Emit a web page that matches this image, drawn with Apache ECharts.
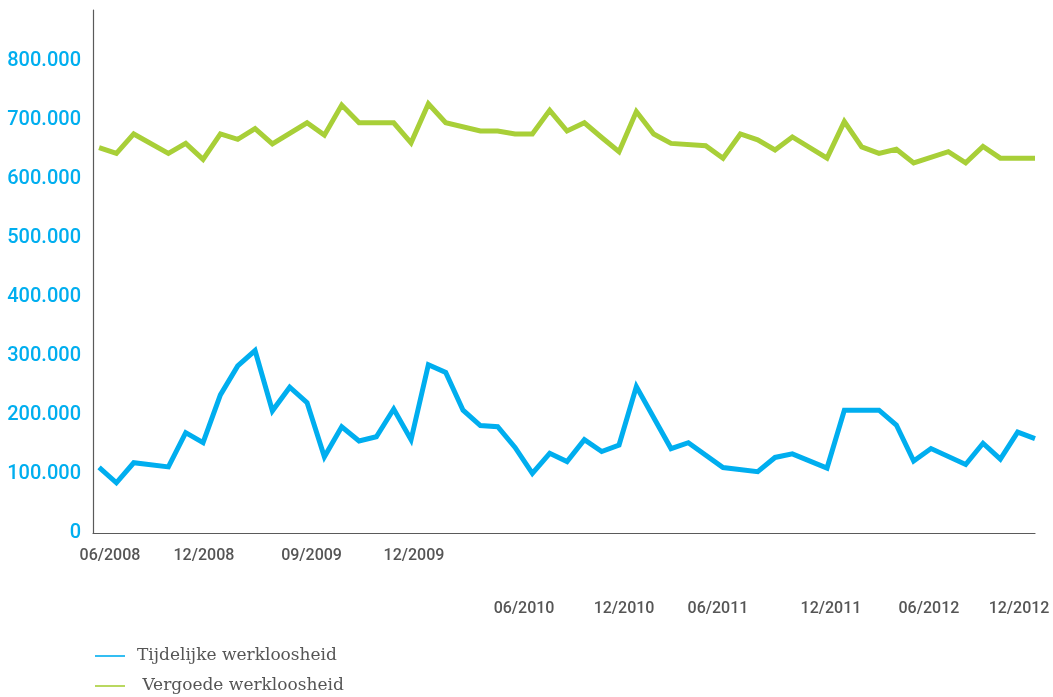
<!DOCTYPE html>
<html>
<head>
<meta charset="utf-8">
<script src="https://cdn.jsdelivr.net/npm/echarts@6/dist/echarts.min.js"></script>
<style>
  html, body { margin: 0; padding: 0; background: #fff; }
  #chart { width: 1053px; height: 697px; }
</style>
</head>
<body>
<div id="chart"></div>
<script>
// Months 06/2008 .. 12/2012
const months = [];
for (let y = 2008, m = 6; y < 2013; ) {
  months.push((m < 10 ? '0' + m : '' + m) + '/' + y);
  m++; if (m > 12) { m = 1; y++; }
}

// Tijdelijke werkloosheid (null = no point in that month, line continues)
const tijdelijke = [
  111000, 85000, 119000, null, 112000, 170000, 153000, 234000, 283000, 309000,
  207000, 247000, 221000, 129000, 180000, 156000, 163000, 210000, 158000, 285000,
  272000, 208000, 182000, 180000, 145000, 101000, 135000, 121000, 158000, 138000,
  149000, 248000, null, 143000, 153000, null, 111000, null, 104000, 128000,
  134000, null, 110000, 208000, null, 208000, 183000, 122000, 143000, null,
  116000, 152000, 125000, 171000, 160000
];

// Vergoede werkloosheid
const vergoede = [
  653000, 643000, 676000, null, 643000, 660000, 633000, 676000, 667000, 685000,
  659000, null, 695000, 674000, 725000, 695000, null, 695000, 661000, 727000,
  695000, null, 681000, 681000, 676000, 676000, 716000, 681000, 695000, 670000,
  646000, 714000, 676000, 660000, null, 656000, 635000, 676000, 666000, 649000,
  671000, null, 635000, 697000, 654000, 643000, 650000, 627000, null, 646000,
  627000, 655000, 635000, null, 635000
];

const seriesNames = ['Tijdelijke werkloosheid', 'Vergoede werkloosheid'];

// Tick labels of the x axis (two rows, as in the original)
const row1Labels = ['06/2008', '12/2008', '09/2009', '12/2009'];
const row2Labels = ['06/2010', '12/2010', '06/2011', '12/2011', '06/2012', '12/2012'];
// layout: where the labels sit, in month units
const row1Pos = [0.63, 6.05, 12.26, 18.17];
const row2Pos = [24.52, 30.29, 35.71, 42.23, 47.88, 53.08];

function pairs(arr) {
  const out = [];
  arr.forEach((v, i) => { if (v !== null) out.push([i, v]); });
  return out;
}
function nearestLabel(pos, labels, v) {
  let best = 0, d = Infinity;
  pos.forEach((p, i) => { const dd = Math.abs(p - v); if (dd < d) { d = dd; best = i; } });
  return d < 0.3 ? labels[best] : '';
}
function fmtNL(v) {
  return String(Math.round(v)).replace(/\B(?=(\d{3})+(?!\d))/g, '.');
}

const chart = echarts.init(document.getElementById('chart'), null, { renderer: 'canvas' });
const xMin = -0.35, xMax = months.length - 1;
const labelFont = { color: '#555', fontFamily: 'Roboto', fontWeight: 500, fontSize: 16 };
const labelAxisBase = {
  type: 'value', min: xMin, max: xMax, gridIndex: 0,
  axisLine: { show: false }, axisTick: { show: false }, splitLine: { show: false }
};
chart.setOption({
  animation: false,
  backgroundColor: '#ffffff',
  grid: { left: 93, right: 18, top: 10, bottom: 164, containLabel: false },
  xAxis: [
    {
      type: 'value', min: xMin, max: xMax,
      axisLine: { show: true, onZero: false, lineStyle: { color: '#5a5a5a', width: 1.2 } },
      axisTick: { show: false }, axisLabel: { show: false }, splitLine: { show: false }
    },
    Object.assign({}, labelAxisBase, {
      position: 'bottom', offset: 0,
      axisLabel: Object.assign({
        show: true, customValues: row1Pos, margin: 15,
        formatter: v => nearestLabel(row1Pos, row1Labels, v)
      }, labelFont)
    }),
    Object.assign({}, labelAxisBase, {
      position: 'bottom', offset: 53,
      axisLabel: Object.assign({
        show: true, customValues: row2Pos, margin: 15,
        formatter: v => nearestLabel(row2Pos, row2Labels, v)
      }, labelFont)
    })
  ],
  yAxis: {
    type: 'value', min: 0, max: 886000, interval: 100000,
    axisLine: { show: true, onZero: false, lineStyle: { color: '#5a5a5a', width: 1.2 } },
    axisTick: { show: false }, splitLine: { show: false },
    axisLabel: {
      color: '#00AEEF', fontFamily: 'Roboto', fontWeight: 500, fontSize: 20, margin: 12,
      showMaxLabel: false,
      formatter: v => (v > 800000 ? '' : fmtNL(v))
    }
  },
  legend: {
    orient: 'vertical', left: 95, top: 646, itemGap: 10, padding: 0,
    icon: 'rect', itemWidth: 30, itemHeight: 1.6,
    textStyle: { fontFamily: 'DejaVu Serif', fontSize: 17, color: '#555', lineHeight: 20, padding: [0, 0, 0, 7] },
    formatter: name => (name === seriesNames[1] ? ' ' + name : name),
    data: seriesNames
  },
  series: [
    {
      name: seriesNames[0], type: 'line', data: pairs(tijdelijke),
      symbol: 'none', lineStyle: { color: '#00AEEF', width: 5, join: 'miter' },
      itemStyle: { color: '#00AEEF' }
    },
    {
      name: seriesNames[1], type: 'line', data: pairs(vergoede),
      symbol: 'none', lineStyle: { color: '#A8CF38', width: 5, join: 'miter' },
      itemStyle: { color: '#A8CF38' }
    }
  ]
});
</script>
</body>
</html>
